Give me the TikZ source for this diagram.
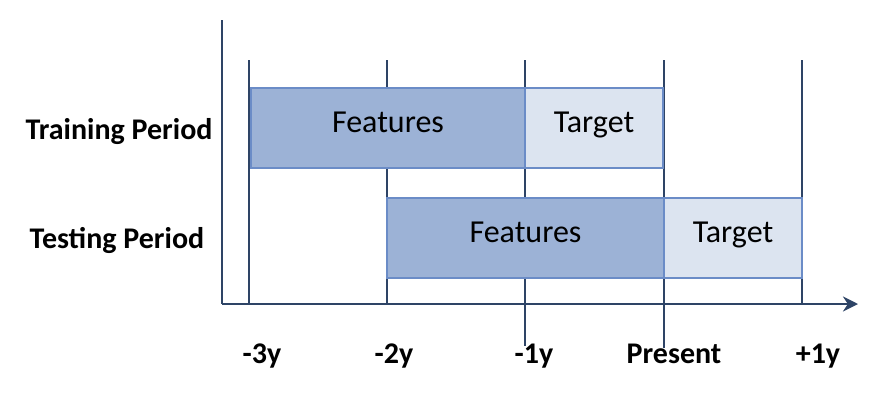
\documentclass[tikz,border=0pt]{standalone}
\usepackage{fontspec}
\setmainfont{Carlito}
\usepackage{tikz}
\usetikzlibrary{arrows.meta}
\definecolor{axisblue}{HTML}{2E4466}
\definecolor{edgeblue}{HTML}{6B8CC7}
\definecolor{featfill}{HTML}{9CB2D6}
\definecolor{targfill}{HTML}{DCE4F0}
\tikzset{
	axisline/.style = {draw=axisblue, line width=2.6pt},
	tickline/.style = {draw=axisblue, line width=2.2pt},
	period/.style = {rectangle, draw=edgeblue, line width=2pt, inner sep=0pt,
		minimum height=80pt, text height=8pt, text depth=0pt,
		font=\fontsize{32}{36}\selectfont},
	feat/.style = {period, fill=featfill},
	targ/.style = {period, fill=targfill},
	rowlab/.style = {font=\fontsize{30}{34}\selectfont\bfseries, inner sep=0pt, anchor=base},
	ticklab/.style = {font=\fontsize{30}{34}\selectfont\bfseries, inner sep=0pt, anchor=base}
}
\begin{document}
\begin{tikzpicture}[x=1pt,y=-1pt]
\useasboundingbox (0,0) rectangle (878,402);
% axes
\coordinate (ytop) at (222,20);
\coordinate (orig) at (222,304);
\coordinate (xend) at (858,304);
% tick lines
\foreach \x/\n in {249/a,387/b,525/c,664/d,802/e}{
	\coordinate (top\n) at (\x,60);
	\coordinate (bot\n) at (\x,304);
}
\coordinate (lowc) at (525,346);
\coordinate (lowd) at (664,348);
\foreach \n in {a,b,e}
	\draw[tickline] (top\n) -- (bot\n);
\draw[tickline] (topc) -- (lowc);
\draw[tickline] (topd) -- (lowd);
\draw[axisline] (ytop) -- (orig);
\draw[axisline, -{Stealth[length=15pt,width=15pt]}] (orig) -- (xend);
% periods
\node[feat, minimum width=274pt] (trainfeat) at (388,128) {Features};
\node[targ, minimum width=138pt] (traintarg) at (594,128) {Target};
\node[feat, minimum width=277pt] (testfeat) at (525.5,238) {Features};
\node[targ, minimum width=138pt] (testtarg) at (733,238) {Target};
% labels
\node[rowlab] (trainlab) at (119,139) {Training Period};
\node[rowlab] (testlab) at (117,248) {Testing Period};
\node[ticklab] (lm3) at (262,363) {-3y};
\node[ticklab] (lm2) at (394,363) {-2y};
\node[ticklab] (lm1) at (534,363) {-1y};
\node[ticklab] (lp0) at (674,363) {Present};
\node[ticklab] (lp1) at (818,363) {+1y};
\end{tikzpicture}
\end{document}
